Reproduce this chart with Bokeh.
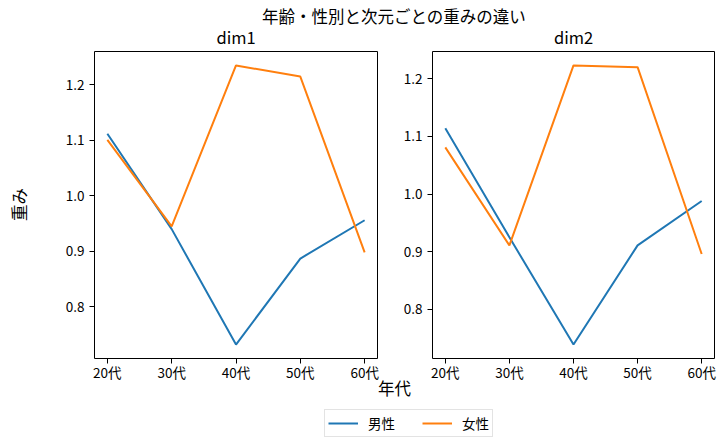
import math
from bokeh.plotting import figure
from bokeh.models import (Range1d, FixedTicker, PrintfTickFormatter, Label,
                          LinearAxis, BoxAnnotation)
from bokeh.embed import file_html
from bokeh.resources import INLINE

# ---- data ----
ages = ["20代", "30代", "40代", "50代", "60代"]
series_names = ["男性", "女性"]
dim1_male = [1.112, 0.940, 0.732, 0.887, 0.956]
dim1_female = [1.101, 0.945, 1.235, 1.215, 0.898]
dim2_male = [1.114, 0.925, 0.739, 0.911, 0.988]
dim2_female = [1.081, 0.911, 1.223, 1.220, 0.896]
y_ticks = [0.8, 0.9, 1.0, 1.1, 1.2]

suptitle = "年齢・性別と次元ごとの重みの違い"
x_label = "年代"
y_label = "重み"
panel_titles = ["dim1", "dim2"]

# ---- style / layout constants (pixels) ----
BLUE = "#1f77b4"
ORANGE = "#ff7f0e"
FONT = "Noto Sans CJK JP"
W, H = 718, 444
FR_TOP, FR_BOT = 51, 358          # panel frame top / bottom (from top)
L_LEFT, L_RIGHT = 94, 377         # left panel frame
R_LEFT, R_RIGHT = 432, 714        # right panel frame
X_PAD = 0.2

x_idx = list(range(len(ages)))
x_lo, x_hi = -X_PAD, len(ages) - 1 + X_PAD


def ylim(vals):
    lo, hi = min(vals), max(vals)
    m = 0.05 * (hi - lo)
    return lo - m, hi + m


def span(lo, hi, p_lo, p_hi, size):
    k = (hi - lo) / (p_hi - p_lo)
    return Range1d(lo - p_lo * k, hi + (size - p_hi) * k)


y1_lo, y1_hi = ylim(dim1_male + dim1_female)
y2_lo, y2_hi = ylim(dim2_male + dim2_female)

F = figure(width=W, height=H,
           x_range=span(x_lo, x_hi, L_LEFT, L_RIGHT, W),
           y_range=span(y1_lo, y1_hi, H - FR_BOT, H - FR_TOP, H),
           x_axis_type=None, y_axis_type=None, min_border=0,
           output_backend="svg", toolbar_location=None)
F.extra_x_ranges = {"r": span(x_lo, x_hi, R_LEFT, R_RIGHT, W)}
F.extra_y_ranges = {"r": span(y2_lo, y2_hi, H - FR_BOT, H - FR_TOP, H)}
F.outline_line_color = None

# panel frames
F.add_layout(BoxAnnotation(left=x_lo, right=x_hi, bottom=y1_lo, top=y1_hi,
                           fill_color=None, line_color="black", line_width=1,
                           line_alpha=1))
F.add_layout(BoxAnnotation(left=x_lo, right=x_hi, bottom=y2_lo, top=y2_hi,
                           x_range_name="r", y_range_name="r",
                           fill_color=None, line_color="black", line_width=1,
                           line_alpha=1))

# lines
F.line(x_idx, dim1_male, color=BLUE, line_width=2, legend_label=series_names[0])
F.line(x_idx, dim1_female, color=ORANGE, line_width=2, legend_label=series_names[1])
F.line(x_idx, dim2_male, color=BLUE, line_width=2, x_range_name="r", y_range_name="r")
F.line(x_idx, dim2_female, color=ORANGE, line_width=2, x_range_name="r", y_range_name="r")


def style(ax):
    ax.axis_line_color = None
    ax.major_tick_line_color = "black"
    ax.major_tick_in = 0
    ax.major_tick_out = 5
    ax.minor_tick_line_color = None
    ax.major_label_text_font = FONT
    ax.major_label_text_font_size = "13.5px"
    ax.major_label_text_color = "black"
    return ax


for rn, ylo in (("default", y1_lo), ("r", y2_lo)):
    xa = LinearAxis(x_range_name=rn, y_range_name=rn, fixed_location=ylo,
                    ticker=FixedTicker(ticks=x_idx),
                    major_label_overrides={i: a for i, a in enumerate(ages)})
    style(xa)
    xa.major_label_standoff = -2
    F.add_layout(xa, "below")
    ya = LinearAxis(x_range_name=rn, y_range_name=rn, fixed_location=x_lo,
                    ticker=FixedTicker(ticks=y_ticks),
                    formatter=PrintfTickFormatter(format="%.1f"))
    style(ya)
    ya.major_label_standoff = 5
    F.add_layout(ya, "left")


def label(text, x, y_from_top, size="16.5px", angle=0.0):
    F.add_layout(Label(x=x, y=H - y_from_top, x_units="screen", y_units="screen",
                       text=text, angle=angle, text_align="center",
                       text_baseline="middle", text_font=FONT,
                       text_font_size=size, text_color="black"))


label(suptitle, 393.5, 15)
label(panel_titles[0], (L_LEFT + L_RIGHT) / 2, 36)
label(panel_titles[1], (R_LEFT + R_RIGHT) / 2, 36)
label(x_label, 394, 387)
label(y_label, 18, 204, angle=math.pi / 2)

lg = F.legend[0]
lg.location = (324, 7)
lg.orientation = "horizontal"
lg.padding = 3
lg.spacing = 27
lg.glyph_width = 30
lg.glyph_height = 14
lg.label_height = 14
lg.label_standoff = 10
lg.label_text_font = FONT
lg.label_text_font_size = "13.5px"
lg.label_text_color = "black"
lg.border_line_color = "#c8c8c8"
lg.border_line_width = 1
lg.background_fill_alpha = 0.8
lg.margin = 0

open("out.html", "w").write(file_html(F, INLINE))
